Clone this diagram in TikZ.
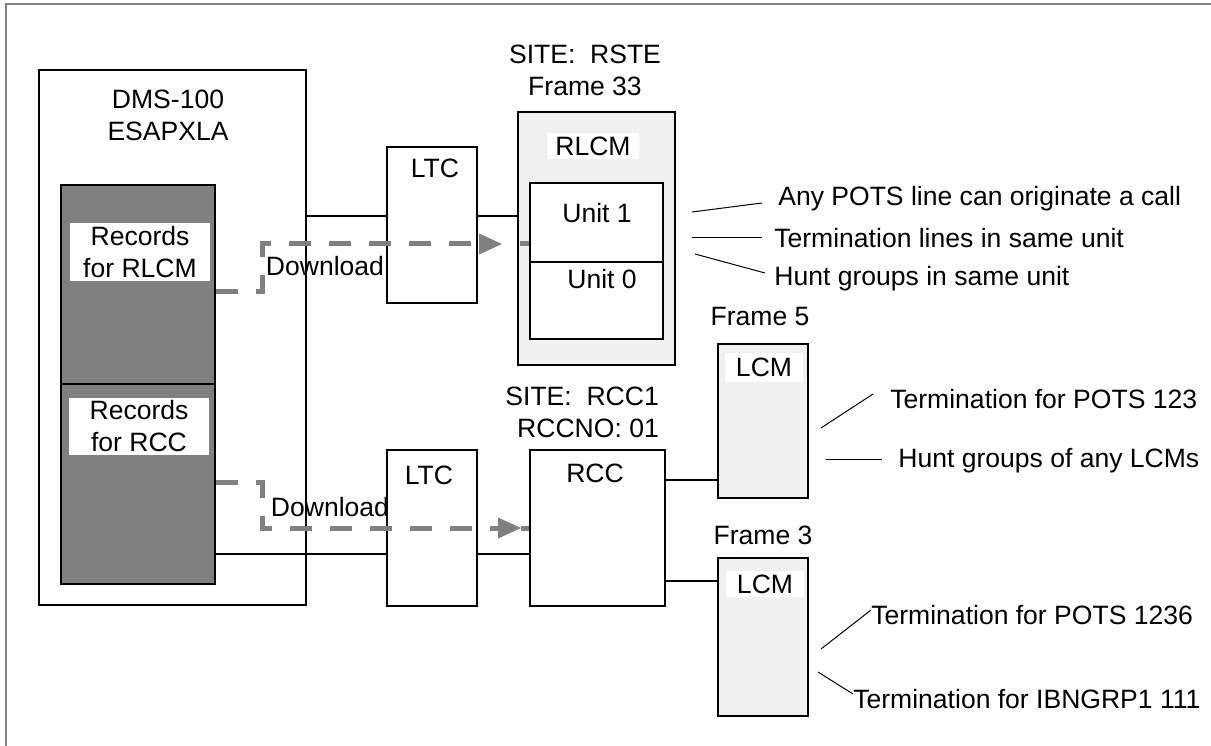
\documentclass[tikz,border=0pt]{standalone}
\usepackage{fontspec}
\setmainfont{Liberation Sans}
\usetikzlibrary{fit,arrows.meta}

\definecolor{midgray}{HTML}{808080}
\definecolor{palegray}{HTML}{F0F0F0}

\tikzset{
  box/.style={draw, line width=0.4mm, inner sep=0pt},
  tag/.style={fill=white, inner sep=0pt, align=center},
  wire/.style={line width=0.4mm},
  callout/.style={line width=0.2mm},
  dl/.style={draw=midgray, line width=1mm, dash pattern=on 4.4mm off 3.6mm},
  dltip/.style={-{Triangle[length=4.6mm,width=4.2mm,line width=0pt]}},
  note/.style={anchor=west, inner sep=0pt},
}

\begin{document}
\begin{tikzpicture}[x=0.2mm, y=-0.2mm, font=\fontsize{15.1}{18.2}\selectfont]
  \useasboundingbox (0,0) rectangle (1211,746);
  \draw[midgray, line width=0.4mm] (6,746) -- (6,4) -- (1211,4);
  % Switch with its records
  \node[box, fit={(39,70) (306,605)}]                  (dms)  {};
  \node[align=center]                  (dmsname) at (168,115) {DMS-100\\ESAPXLA};
  \node[box, fill=midgray, fit={(61,185) (215,384)}]   (recA) {};
  \node[box, fill=midgray, fit={(61,384) (215,584)}]   (recB) {};
  \node[tag, minimum width=28mm, minimum height=11.4mm] (recAtag) at (140,252) {Records\\for RLCM};
  \node[tag, minimum width=28mm, minimum height=11.4mm] (recBtag) at (139,426) {Records\\for RCC};
  % Trunk controllers
  \node[box, fit={(387,147) (477,303)}] (ltcA) {};
  \node (ltcAname) at (435,168) {LTC};
  \node[box, fit={(387,450) (477,606)}] (ltcB) {};
  \node (ltcBname) at (429,475) {LTC};
  % Remote site RSTE
  \node[align=center] (siteR) at (585,70) {SITE:\ \ RSTE\\Frame 33};
  \node[box, fill=palegray, fit={(518,112) (675,365)}] (rlcm) {};
  \node[tag, minimum width=18.4mm, minimum height=5.2mm] (rlcmtag) at (593,146) {RLCM};
  \node[box, fill=white, fit={(530,183) (663,262)}] (unit1) {};
  \node[box, fill=white, fit={(530,262) (663,339)}] (unit0) {};
  \node (unit1name) at (597,213) {Unit 1};
  \node (unit0name) at (602,279) {Unit 0};
  % Remote site RCC1
  \node[align=right, anchor=east] (siteC) at (665,412) {SITE:\ \ RCC1\\RCCNO: 01};
  \node[box, fit={(530,450) (665,606)}] (rcc) {};
  \node (rccname) at (595,473) {RCC};
  \node (frameF) at (760,316) {Frame 5};
  \node[box, fill=palegray, fit={(718,344) (808,498)}] (lcmF) {};
  \node[tag, minimum width=15.6mm, minimum height=5.8mm] (lcmFtag) at (764,367) {LCM};
  \node (frameT) at (763,535) {Frame 3};
  \node[box, fill=palegray, fit={(718,558) (808,716)}] (lcmT) {};
  \node[tag, minimum width=15.6mm, minimum height=5.2mm] (lcmTtag) at (765,584) {LCM};
  % Links
  \draw[wire] (dms.east |- 0,216) -- (ltcA.west |- 0,216);
  \draw[wire] (ltcA.east |- 0,216) -- (rlcm.west |- 0,216);
  \draw[wire] (recB.east |- 0,554) -- (ltcB.west |- 0,554);
  \draw[wire] (ltcB.east |- 0,554) -- (rcc.west |- 0,554);
  \draw[wire] (rcc.east |- 0,480) -- (lcmF.west |- 0,480);
  \draw[wire] (rcc.east |- 0,581) -- (lcmT.west |- 0,581);
  % Downloads
  \coordinate (tipA) at (502,244);
  \coordinate (tipB) at (521,528);
  \draw[dl, dltip] (recA.east |- 0,291) -| (262,244) -- (tipA);
  \draw[dl, dash phase=4.4mm] (tipA) -- (unit1.west |- tipA);
  \draw[dl, dltip] (recB.east |- 0,482) -| (262,528) -- (tipB);
  \draw[dl] (tipB) -- (rcc.west |- tipB);
  \node (dlA) at (325,266) {Download};
  \node (dlB) at (330,507) {Download};
  % Notes
  \node[note] (anyline) at (778,199) {Any POTS line can originate a call};
  \node[note] (termsame) at (774,238) {Termination lines in same unit};
  \node[note] (huntsame) at (774,279) {Hunt groups in same unit};
  \node[note] (termF) at (890,399) {Termination for POTS 123};
  \node[note] (huntany) at (898,461) {Hunt groups of any LCMs};
  \node[note] (termT) at (871,615) {Termination for POTS 1236};
  \node[note] (termI) at (853,699) {Termination for IBNGRP1 111};
  \coordinate (c1) at (692,212);
  \coordinate (c2) at (692,238);
  \coordinate (c3) at (695,254);
  \coordinate (c4) at (821,428);
  \coordinate (c5) at (826,459);
  \coordinate (c6) at (821,649);
  \coordinate (c7) at (818,672);
  \draw[callout] (c1) -- ([shift={(-16,4)}]anyline.west);
  \draw[callout] (c2) -- ([shift={(-12,0)}]termsame.west);
  \draw[callout] (c3) -- ([shift={(-9,-6)}]huntsame.west);
  \draw[callout] (c4) -- ([shift={(-17,-5)}]termF.west);
  \draw[callout] (c5) -- ([shift={(-16,-2)}]huntany.west);
  \draw[callout] (c6) -- ([shift={(0,-5)}]termT.west);
  \draw[callout] (c7) -- ([shift={(0,-5)}]termI.west);
\end{tikzpicture}
\end{document}
